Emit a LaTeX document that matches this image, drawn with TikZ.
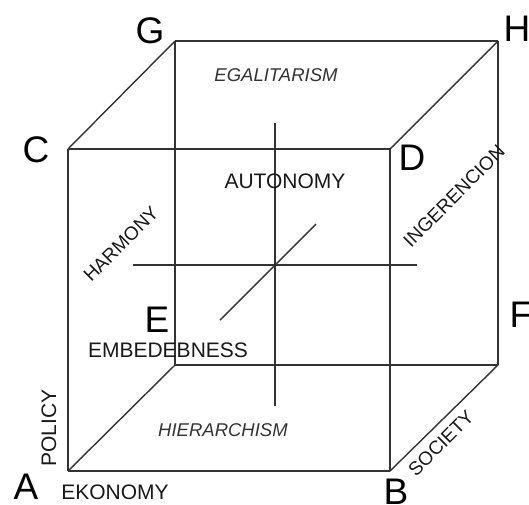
\documentclass[tikz,border=0pt]{standalone}
\usepackage{fontspec}
\setmainfont{Liberation Sans}
\usetikzlibrary{positioning}

\tikzset{
  edge/.style={draw=black!80, line width=1.4pt},
  corner/.style={font=\fontsize{37}{37}\selectfont, inner sep=0pt},
  tag/.style={font=\fontsize{21}{21}\selectfont, inner sep=0pt, text=black!90},
  rtag/.style={tag, font=\fontsize{19}{19}\selectfont},
  itag/.style={tag, font=\fontsize{18.5}{18.5}\selectfont\itshape, text=black!80}
}

\begin{document}
\begin{tikzpicture}[x=1pt, y=-1pt]
    \useasboundingbox (0,0) rectangle (529,504);
    % corners of the cube
    \coordinate (A) at (68,471);
    \coordinate (B) at (390,471);
    \coordinate (C) at (68,149);
    \coordinate (D) at (390,149);
    \coordinate (E) at (175,365);
    \coordinate (F) at (498,365);
    \coordinate (G) at (175,41);
    \coordinate (H) at (498,41);
    \foreach \a/\b in {A/B, B/D, D/C, C/A, E/F, F/H, H/G, G/E, A/E, B/F, C/G, D/H}
        \draw[edge] (\a) -- (\b);
    % axes through the middle
    \coordinate (up) at (275,123);
    \coordinate (down) at (275,406);
    \coordinate (west) at (133,265);
    \coordinate (east) at (417,265);
    \coordinate (near) at (220,320);
    \coordinate (far) at (316,224);
    \draw[edge] (up) -- (down);
    \draw[edge] (west) -- (east);
    \draw[edge] (near) -- (far);
    % corner letters
    \node[corner] (lA) at (26,487) {A};
    \node[corner] (lB) at (396,492) {B};
    \node[corner] (lC) at (36,150) {C};
    \node[corner] (lD) at (412,158) {D};
    \node[corner] (lE) at (157,320) {E};
    \node[corner] (lF) at (521,315) {F};
    \node[corner] (lG) at (150,31) {G};
    \node[corner] (lH) at (517,29) {H};
    % texts
    \node[itag] (egal) at (276,75) {EGALITARISM};
    \node[itag] (hier) at (223,430) {HIERARCHISM};
    \node[tag] (auto) at (285,181) {AUTONOMY};
    \node[tag] (embe) at (168,350) {EMBEDEBNESS};
    \node[tag] (ekon) at (115,492) {EKONOMY};
    \node[tag, rotate=90] (poli) at (49,428) {POLICY};
    \node[rtag, rotate=45] (harm) at (121,244) {HARMONY};
    \node[rtag, rotate=45] (inge) at (454,196) {INGERENCION};
    \node[rtag, rotate=45] (soci) at (441,443) {SOCIETY};
\end{tikzpicture}
\end{document}
